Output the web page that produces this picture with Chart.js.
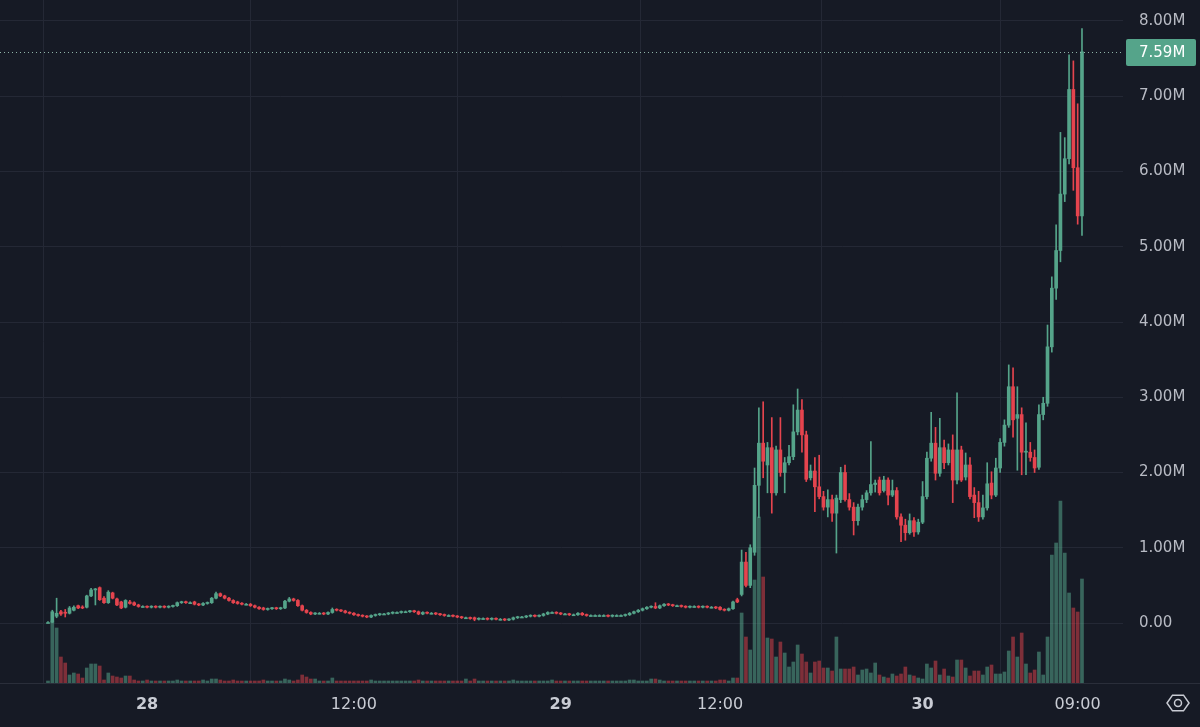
<!DOCTYPE html>
<html><head><meta charset="utf-8">
<script src="https://cdn.jsdelivr.net/npm/chart.js@4.4.1/dist/chart.umd.min.js"></script>
<style>html,body{margin:0;padding:0;background:#161a25;}canvas{display:block;}</style>
</head><body>
<canvas id="c" width="1200" height="727"></canvas>
<script>
// 15-minute candles, prices in millions
const opens = [
0.00,0.01,0.09,0.15,0.14,0.13,0.17,0.23,0.21,0.21,
0.36,0.44,0.47,0.33,0.27,0.40,0.32,0.28,0.21,0.28,
0.27,0.24,0.22,0.22,0.21,0.22,0.21,0.22,0.21,0.22,
0.23,0.27,0.28,0.27,0.28,0.25,0.24,0.26,0.27,0.33,
0.39,0.36,0.33,0.30,0.28,0.26,0.25,0.25,0.23,0.21,
0.20,0.18,0.19,0.20,0.19,0.20,0.29,0.32,0.30,0.23,
0.17,0.14,0.12,0.13,0.13,0.12,0.14,0.18,0.17,0.16,
0.14,0.13,0.11,0.10,0.09,0.08,0.10,0.11,0.12,0.12,
0.13,0.14,0.14,0.15,0.15,0.16,0.15,0.12,0.14,0.13,
0.13,0.12,0.11,0.10,0.10,0.09,0.08,0.07,0.07,0.07,
0.05,0.06,0.06,0.05,0.06,0.05,0.05,0.04,0.05,0.07,
0.08,0.08,0.09,0.10,0.09,0.10,0.12,0.14,0.14,0.13,
0.12,0.12,0.11,0.11,0.13,0.11,0.10,0.10,0.10,0.10,
0.10,0.09,0.10,0.10,0.10,0.11,0.13,0.15,0.17,0.19,
0.21,0.22,0.20,0.23,0.25,0.24,0.23,0.23,0.22,0.21,
0.22,0.22,0.21,0.22,0.21,0.21,0.21,0.18,0.17,0.19,
0.31,0.38,0.81,0.50,0.94,1.83,2.39,2.10,2.33,1.73,
2.30,2.00,2.13,2.21,2.54,2.83,2.50,1.93,2.02,1.81,
1.68,1.54,1.64,1.46,1.64,2.00,1.64,1.54,1.36,1.54,
1.64,1.73,1.84,1.90,1.76,1.90,1.70,1.76,1.41,1.30,
1.20,1.36,1.21,1.34,1.68,2.19,2.39,1.99,2.33,2.13,
2.30,1.90,2.30,1.94,2.10,1.70,1.60,1.41,1.53,1.86,
1.70,2.06,2.40,2.63,3.14,2.72,2.77,2.27,2.27,2.20,
2.07,2.77,2.92,3.67,4.45,4.95,5.70,6.17,7.09,6.05,
5.41];
const highs = [
0.02,0.17,0.33,0.17,0.18,0.22,0.23,0.24,0.23,0.37,
0.46,0.46,0.48,0.35,0.43,0.41,0.33,0.29,0.31,0.30,
0.28,0.25,0.23,0.23,0.23,0.23,0.23,0.23,0.23,0.24,
0.28,0.29,0.29,0.28,0.29,0.26,0.27,0.28,0.34,0.41,
0.40,0.37,0.34,0.31,0.29,0.27,0.26,0.26,0.24,0.22,
0.21,0.20,0.21,0.21,0.21,0.30,0.34,0.33,0.31,0.24,
0.18,0.15,0.14,0.14,0.14,0.15,0.20,0.19,0.18,0.17,
0.15,0.14,0.12,0.11,0.10,0.11,0.12,0.13,0.13,0.14,
0.15,0.15,0.16,0.16,0.17,0.17,0.16,0.15,0.15,0.14,
0.14,0.13,0.12,0.11,0.11,0.10,0.09,0.08,0.08,0.08,
0.07,0.07,0.07,0.07,0.07,0.06,0.06,0.06,0.08,0.09,
0.09,0.10,0.11,0.11,0.11,0.13,0.15,0.15,0.15,0.14,
0.13,0.13,0.12,0.14,0.14,0.12,0.11,0.11,0.11,0.11,
0.11,0.11,0.11,0.11,0.12,0.14,0.16,0.18,0.20,0.22,
0.23,0.27,0.24,0.26,0.26,0.25,0.24,0.24,0.23,0.23,
0.23,0.23,0.23,0.23,0.22,0.22,0.22,0.19,0.20,0.29,
0.33,0.97,0.94,1.04,2.06,2.86,2.94,2.40,2.73,2.35,
2.73,2.20,2.36,2.90,3.11,2.97,2.55,2.10,2.20,2.23,
1.75,1.77,1.70,1.70,2.07,2.10,1.72,1.60,1.58,1.70,
1.76,2.41,1.90,1.94,1.95,1.93,1.90,1.80,1.45,1.38,
1.45,1.40,1.38,1.88,2.27,2.80,2.60,2.72,2.43,2.38,
2.50,3.06,2.35,2.26,2.20,1.80,1.75,1.70,2.13,2.01,
2.19,2.45,2.70,3.43,3.39,3.14,2.86,2.66,2.40,2.30,
2.90,3.00,3.96,4.60,5.29,6.52,6.45,7.55,7.47,6.90,
7.90];
const lows = [
0.00,0.00,0.07,0.10,0.08,0.12,0.16,0.19,0.19,0.20,
0.35,0.24,0.30,0.26,0.26,0.32,0.23,0.19,0.20,0.25,
0.23,0.21,0.21,0.20,0.20,0.20,0.20,0.20,0.20,0.21,
0.22,0.26,0.26,0.26,0.24,0.23,0.23,0.25,0.26,0.32,
0.35,0.32,0.29,0.26,0.25,0.24,0.24,0.22,0.20,0.18,
0.17,0.17,0.18,0.18,0.18,0.19,0.28,0.29,0.22,0.16,
0.13,0.11,0.11,0.12,0.11,0.11,0.13,0.16,0.15,0.13,
0.12,0.10,0.09,0.08,0.07,0.07,0.09,0.10,0.11,0.11,
0.12,0.13,0.13,0.14,0.14,0.14,0.11,0.11,0.12,0.12,
0.11,0.10,0.09,0.09,0.08,0.07,0.06,0.06,0.05,0.03,
0.04,0.05,0.04,0.04,0.04,0.04,0.03,0.03,0.04,0.06,
0.07,0.07,0.08,0.08,0.08,0.09,0.11,0.13,0.12,0.11,
0.11,0.10,0.10,0.10,0.10,0.09,0.09,0.09,0.09,0.09,
0.08,0.08,0.09,0.09,0.09,0.10,0.12,0.14,0.16,0.18,
0.20,0.19,0.19,0.22,0.23,0.22,0.22,0.21,0.20,0.20,
0.21,0.20,0.20,0.20,0.20,0.19,0.17,0.16,0.16,0.18,
0.27,0.36,0.48,0.47,0.90,1.40,1.93,1.73,1.46,1.70,
1.95,1.73,2.10,2.17,2.50,2.27,1.88,1.90,1.48,1.65,
1.50,1.41,1.35,0.93,1.60,1.62,1.50,1.17,1.30,1.50,
1.60,1.70,1.74,1.70,1.74,1.57,1.68,1.38,1.08,1.10,
1.18,1.15,1.18,1.32,1.65,2.15,1.90,1.95,2.05,2.10,
1.60,1.85,1.88,1.90,1.65,1.40,1.35,1.38,1.50,1.65,
1.68,2.00,2.35,2.60,2.47,2.03,1.97,1.97,2.15,2.00,
2.04,2.70,2.88,3.60,4.30,4.80,5.60,6.10,5.75,5.30,
5.15];
const closes = [
0.01,0.15,0.13,0.12,0.13,0.20,0.21,0.20,0.20,0.36,
0.44,0.45,0.31,0.27,0.41,0.33,0.24,0.20,0.30,0.26,
0.24,0.22,0.22,0.21,0.22,0.21,0.22,0.21,0.22,0.23,
0.27,0.28,0.27,0.27,0.25,0.24,0.26,0.27,0.33,0.39,
0.36,0.33,0.30,0.27,0.26,0.25,0.25,0.23,0.21,0.19,
0.18,0.19,0.20,0.19,0.20,0.29,0.32,0.30,0.23,0.17,
0.14,0.12,0.13,0.13,0.12,0.14,0.18,0.17,0.16,0.14,
0.13,0.11,0.10,0.09,0.08,0.10,0.11,0.12,0.12,0.13,
0.14,0.14,0.15,0.15,0.16,0.15,0.12,0.14,0.13,0.13,
0.12,0.11,0.10,0.10,0.09,0.08,0.07,0.07,0.06,0.05,
0.06,0.06,0.05,0.06,0.05,0.05,0.04,0.05,0.07,0.08,
0.08,0.09,0.10,0.09,0.10,0.12,0.14,0.14,0.13,0.12,
0.12,0.11,0.11,0.13,0.11,0.10,0.10,0.10,0.10,0.10,
0.09,0.10,0.10,0.10,0.11,0.13,0.15,0.17,0.19,0.21,
0.22,0.20,0.23,0.25,0.24,0.23,0.23,0.22,0.21,0.22,
0.22,0.21,0.22,0.21,0.21,0.20,0.18,0.17,0.19,0.28,
0.28,0.81,0.50,1.00,1.83,2.39,2.15,2.33,1.73,2.30,
2.00,2.13,2.21,2.54,2.83,2.50,1.91,2.02,1.81,1.68,
1.54,1.64,1.46,1.66,2.00,1.64,1.54,1.36,1.54,1.64,
1.73,1.84,1.86,1.73,1.90,1.70,1.76,1.41,1.30,1.20,
1.36,1.21,1.34,1.68,2.19,2.39,1.99,2.33,2.13,2.30,
1.90,2.30,1.90,2.10,1.68,1.60,1.41,1.53,1.85,1.70,
2.06,2.40,2.63,3.14,2.70,2.77,2.27,2.28,2.20,2.06,
2.77,2.92,3.67,4.45,4.95,5.70,6.17,7.09,6.05,5.41,
7.59];
const volumes = [
2,62,55,26,20,8,10,9,5,15,
19,19,17,3,10,7,6,5,7,7,
3,2,2,3,2,2,2,2,2,2,
3,2,2,2,2,2,3,2,4,4,
3,2,2,3,2,2,2,2,2,2,
3,2,2,2,2,4,3,2,3,8,
6,4,4,2,2,2,5,2,2,2,
2,2,2,2,2,3,2,2,2,2,
2,2,2,2,2,2,3,2,2,2,
2,2,2,2,2,2,2,4,2,4,
2,2,2,2,2,2,2,2,3,2,
2,2,2,2,2,2,2,3,2,2,
2,2,2,2,2,2,2,2,2,2,
2,2,2,2,2,3,3,2,2,2,
4,4,3,2,2,2,2,2,2,2,
2,2,2,2,2,2,3,3,2,5,
5,70,46,33,103,166,106,45,44,26,
41,30,16,21,38,29,21,10,21,22,
15,15,12,46,14,14,14,16,8,13,
14,10,20,8,6,5,9,7,9,16,
8,7,5,4,19,15,22,8,14,7,
6,23,23,15,7,12,12,8,16,18,
9,9,11,32,46,26,50,19,10,13,
31,8,46,128,140,182,130,90,75,71,
104];
const xTickIndex = [23, 71, 119, 156, 203, 239];
const xTickLabels = ['28', '12:00', '29', '12:00', '30', '09:00'];
const yTickValues = [0, 1, 2, 3, 4, 5, 6, 7, 8];
const lastPrice = 7.59;

const BG = '#161a25', GRID = '#242835', TXT = '#b8bbc4';
const UP = '#55a48a', DOWN = '#e5444e';
const UP_VOL = 'rgba(85,164,138,0.55)', DOWN_VOL = 'rgba(229,68,78,0.5)';
const FONT = '"DejaVu Sans", sans-serif';

const idx = opens.map((_, i) => i);
const up = idx.map(i => closes[i] >= opens[i]);
const fmt = v => v === 0 ? '0.00' : v.toFixed(2) + 'M';
const noPad = s => { s.paddingTop = 0; s.paddingBottom = 0; s.paddingLeft = 0; s.paddingRight = 0; };

const overlay = {
  id: 'overlay',
  beforeDraw(chart) {
    const c = chart.ctx;
    c.save(); c.fillStyle = BG; c.fillRect(0, 0, chart.width, chart.height); c.restore();
  },
  afterDraw(chart) {
    const c = chart.ctx, a = chart.chartArea, y = chart.scales.y;
    const py = Math.round(y.getPixelForValue(lastPrice)) + 0.5;
    c.save();
    c.strokeStyle = '#8fb3a8'; c.lineWidth = 1; c.setLineDash([1, 3]);
    c.beginPath(); c.moveTo(a.left, py); c.lineTo(a.right, py); c.stroke();
    c.setLineDash([]);
    c.strokeStyle = '#2a2e3a';
    c.beginPath(); c.moveTo(0, a.bottom + 0.5); c.lineTo(chart.width, a.bottom + 0.5); c.stroke();
    c.fillStyle = UP;
    c.beginPath(); c.roundRect(a.right + 3, py - 13.5, 70, 27, 2); c.fill();
    c.fillStyle = '#ffffff'; c.font = '15px ' + FONT; c.textBaseline = 'middle'; c.textAlign = 'left';
    c.fillText(fmt(lastPrice), a.right + 16, py + 1);
    // settings icon
    const cx = 1178, cy = 703, r = 11;
    c.strokeStyle = '#c9ccd4'; c.lineWidth = 1.5;
    c.beginPath();
    for (let k = 0; k < 6; k++) {
      const ang = Math.PI / 3 * k;
      const px = cx + r * Math.cos(ang), pyy = cy + r * 0.82 * Math.sin(ang);
      if (k === 0) c.moveTo(px, pyy); else c.lineTo(px, pyy);
    }
    c.closePath(); c.stroke();
    c.beginPath(); c.arc(cx, cy, 3.5, 0, Math.PI * 2); c.stroke();
    c.restore();
  }
};

new Chart(document.getElementById('c'), {
  type: 'bar',
  data: {
    datasets: [
      { label: 'body', yAxisID: 'y', grouped: false, order: 1,
        data: idx.map(i => ({ x: i, y: [opens[i], closes[i]] })),
        backgroundColor: idx.map(i => up[i] ? UP : DOWN),
        barThickness: 3, minBarLength: 1 },
      { label: 'wick', yAxisID: 'y', grouped: false, order: 2,
        data: idx.map(i => ({ x: i, y: [lows[i], highs[i]] })),
        backgroundColor: idx.map(i => up[i] ? UP : DOWN),
        barThickness: 1 },
      { label: 'volume', yAxisID: 'yv', grouped: false, order: 3,
        data: idx.map(i => ({ x: i, y: volumes[i] })),
        backgroundColor: idx.map(i => up[i] ? UP_VOL : DOWN_VOL),
        barThickness: 3 }
    ]
  },
  options: {
    responsive: false, animation: false, devicePixelRatio: 1,
    layout: { padding: 0 },
    plugins: { legend: { display: false }, tooltip: { enabled: false } },
    scales: {
      x: {
        type: 'linear', min: -11.14, max: 249.52, offset: false,
        grid: { color: GRID, drawTicks: false },
        border: { display: false },
        afterBuildTicks: s => { s.ticks = xTickIndex.map(v => ({ value: v })); },
        afterFit: s => { s.height = 44; noPad(s); },
        ticks: {
          autoSkip: false, maxRotation: 0, padding: 12, color: '#c9ccd4',
          font: ctx => ({ family: FONT, size: 16, weight: /^\d+$/.test(xTickLabels[ctx.index] || '') ? 'bold' : 'normal' }),
          callback: (v, i) => xTickLabels[i]
        }
      },
      y: {
        position: 'right', min: -0.797, max: 8.279,
        grid: { color: GRID, drawTicks: false },
        border: { display: false },
        afterBuildTicks: s => { s.ticks = yTickValues.map(v => ({ value: v })); },
        afterFit: s => { s.width = 77; noPad(s); },
        ticks: { padding: 16, color: TXT, font: { family: FONT, size: 15 }, callback: v => fmt(v) }
      },
      yv: { display: false, min: 0, max: 683 }
    }
  },
  plugins: [overlay]
});
</script>
</body></html>
